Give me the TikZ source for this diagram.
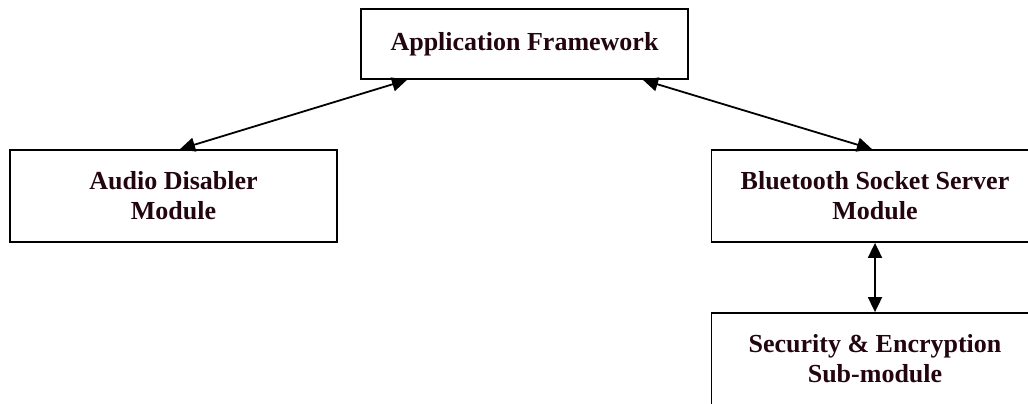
\documentclass[tikz,border=0pt]{standalone}
\usepackage{fontspec}
\setmainfont{Liberation Serif}
\usetikzlibrary{arrows.meta}
\definecolor{boxtext}{RGB}{35,5,15}

\begin{document}
\begin{tikzpicture}[x=0.5pt, y=-0.5pt,
    module/.style={draw=black, line width=0.9pt, minimum width=163.5pt,
      minimum height=46pt, inner sep=0pt, align=center, text=boxtext,
      font=\fontsize{13}{15}\selectfont\bfseries},
    link/.style={{Triangle[length=7.5pt,width=7pt]}-{Triangle[length=7.5pt,width=7pt]},
      line width=0.9pt}]
  \useasboundingbox (0,0) rectangle (1028,403);

  % top level
  \node[module, minimum height=35pt] (app) at (524.5,44) {Application Framework};

  % modules
  \node[module] (audio) at (173.5,196) {Audio Disabler\\Module};
  \node[module] (bluetooth) at (875,196) {Bluetooth Socket Server\\Module};
  \node[module] (security) at (875,359) {Security \& Encryption\\Sub-module};

  \draw[link] ([xshift=-58.75pt]app.south) -- ([xshift=3.25pt]audio.north);
  \draw[link] ([xshift=59.25pt]app.south) -- ([xshift=-1.5pt]bluetooth.north);
  \draw[link] (bluetooth.south) -- (security.north);
\end{tikzpicture}
\end{document}
